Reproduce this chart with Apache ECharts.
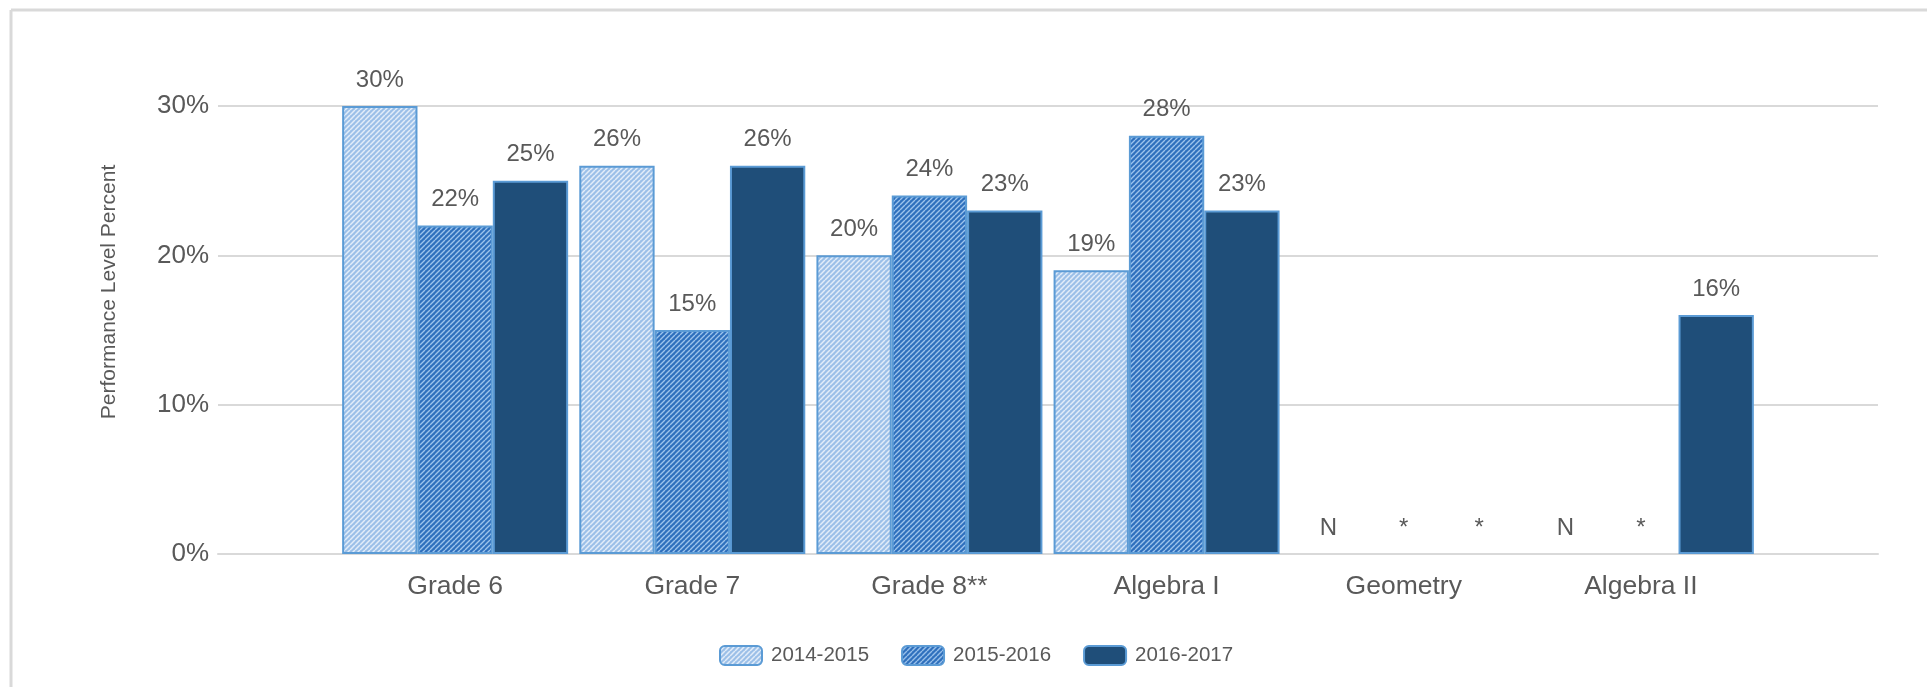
<!DOCTYPE html>
<html>
<head>
<meta charset="utf-8">
<script src="https://cdn.jsdelivr.net/npm/echarts@6/dist/echarts.min.js"></script>
<style>
  html, body { margin: 0; padding: 0; background: #ffffff; }
  #chart { width: 1927px; height: 687px; }
</style>
</head>
<body>
<div id="chart"></div>
<script>
// Performance level percent by course and school year
const categories = ['Grade 6', 'Grade 7', 'Grade 8**', 'Algebra I', 'Geometry', 'Algebra II'];
const seriesNames = ['2014-2015', '2015-2016', '2016-2017'];
const pct1415 = [30, 26, 20, 19, null, null];
const pct1516 = [22, 15, 24, 28, null, null];
const pct1617 = [25, 26, 23, 23, null, 16];
// Markers shown where no percentage is reported
const note1415 = ['', '', '', '', 'N', 'N'];
const note1516 = ['', '', '', '', '*', '*'];
const note1617 = ['', '', '', '', '*', ''];
const yTicks = [0, 10, 20, 30];

const TEXT = '#595959';
const FONT = '"Liberation Sans", Arial, sans-serif';
const EDGE = '#5b9bd5';

// Diagonal-stripe tiles for the hatched fills
function stripeTile(base, stripe, size, lw) {
  const c = document.createElement('canvas');
  c.width = size; c.height = size;
  const g = c.getContext('2d');
  g.fillStyle = base;
  g.fillRect(0, 0, size, size);
  g.strokeStyle = stripe;
  g.lineWidth = lw;
  g.beginPath();
  for (let k = -1; k <= 1; k++) {
    g.moveTo(k * size, size);
    g.lineTo(k * size + size, 0);
  }
  g.stroke();
  return c;
}

const fills = [
  { image: stripeTile('#9cc0e8', '#e2edf9', 5, 1.5), repeat: 'repeat' },
  { image: stripeTile('#2f70bd', '#9cc3ec', 5, 1.4), repeat: 'repeat' },
  '#1f4e79'
];

// One padding slot on each side so the bars sit inside a wider grid
const axisCats = [''].concat(categories, ['']);

function buildData(values, notes) {
  const out = [null];
  values.forEach((v, i) => {
    if (v === null && notes[i]) {
      out.push({
        value: 0,
        label: { formatter: notes[i] },
        itemStyle: { color: 'rgba(0,0,0,0)', borderWidth: 0 }
      });
    } else {
      out.push(v);
    }
  });
  out.push(null);
  return out;
}

const valueSets = [pct1415, pct1516, pct1617];
const noteSets = [note1415, note1516, note1617];

const series = seriesNames.map((name, s) => ({
  name: name,
  type: 'bar',
  data: buildData(valueSets[s], noteSets[s]),
  barGap: '0%',
  barCategoryGap: '4.7%',
  itemStyle: { color: fills[s], borderColor: EDGE, borderWidth: 2 },
  label: {
    show: true,
    position: 'top',
    distance: 14,
    color: TEXT,
    fontFamily: FONT,
    fontSize: 24,
    formatter: p => p.value + '%'
  }
}));

const chart = echarts.init(document.getElementById('chart'), null, { renderer: 'canvas' });
chart.setOption({
  backgroundColor: '#ffffff',
  animation: false,
  grid: { left: 218, right: 49, top: 106, bottom: 133, containLabel: false },
  legend: {
    data: seriesNames,
    left: 714,
    top: 640,
    itemWidth: 42,
    itemHeight: 19,
    itemGap: 32,
    textStyle: { color: TEXT, fontFamily: FONT, fontSize: 20.5, padding: [0, 0, 0, 4] }
  },
  xAxis: {
    type: 'category',
    data: axisCats,
    boundaryGap: false,
    axisLine: { lineStyle: { color: '#d9d9d9', width: 2 } },
    axisTick: { show: false },
    axisLabel: { color: TEXT, fontFamily: FONT, fontSize: 26.5, margin: 19, interval: 0 },
    splitLine: { show: false }
  },
  yAxis: {
    type: 'value',
    min: yTicks[0],
    max: yTicks[yTicks.length - 1],
    interval: 10,
    axisLine: { show: false },
    axisTick: { show: false },
    axisLabel: { color: TEXT, fontFamily: FONT, fontSize: 26, margin: 9, formatter: v => v + '%' },
    splitLine: { lineStyle: { color: '#d9d9d9', width: 2 } }
  },
  graphic: [
    { type: 'line', shape: { x1: 11, y1: 10, x2: 1927, y2: 10 }, style: { stroke: '#d9d9d9', lineWidth: 3 } },
    { type: 'line', shape: { x1: 11, y1: 10, x2: 11, y2: 687 }, style: { stroke: '#d9d9d9', lineWidth: 3 } },
    {
      type: 'text',
      x: 109, y: 292,
      rotation: Math.PI / 2,
      style: {
        text: 'Performance Level Percent',
        fill: TEXT,
        font: '21px ' + FONT,
        align: 'center',
        verticalAlign: 'middle'
      }
    }
  ],
  series: series
});
</script>
</body>
</html>
